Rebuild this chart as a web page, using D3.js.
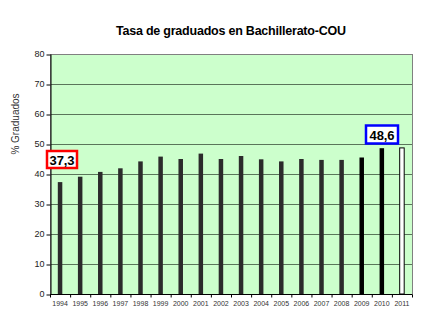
<!DOCTYPE html>
<html>
<head>
<meta charset="utf-8">
<script src="https://cdn.jsdelivr.net/npm/d3@7"></script>
<style>
  body { margin: 0; background: #fff; }
  svg { display: block; font-family: Arial, "Liberation Sans", sans-serif; }
</style>
</head>
<body>
<div id="chart"></div>
<script>
// data
var years = ["1994","1995","1996","1997","1998","1999","2000","2001","2002","2003",
             "2004","2005","2006","2007","2008","2009","2010","2011"];
var values = [37.3, 39.1, 40.7, 41.9, 44.2, 45.8, 45.0, 46.8, 45.0, 46.0,
              44.9, 44.2, 45.0, 44.7, 44.7, 45.5, 48.6, 48.7];
var yTicks = [0, 10, 20, 30, 40, 50, 60, 70, 80];

var W = 428, H = 335;
var margin = {top: 54, right: 16, bottom: 41, left: 50};
var width = 412 - margin.left, height = 294 - margin.top;

var svg = d3.select("#chart").append("svg")
    .attr("width", W).attr("height", H);

// title
svg.append("text")
    .attr("x", 231).attr("y", 35)
    .attr("text-anchor", "middle")
    .style("font-size", "12.5px")
    .style("font-weight", "bold")
    .attr("textLength", 230)
    .text("Tasa de graduados en Bachillerato-COU");

var g = svg.append("g")
    .attr("transform", "translate(" + margin.left + "," + margin.top + ")");

var x = d3.scaleBand().domain(years).range([0, width]).paddingInner(0).paddingOuter(0);
var y = d3.scaleLinear().domain([0, 80]).range([height, 0]);

// plot background
g.append("rect")
    .attr("width", width).attr("height", height)
    .attr("fill", "#ccffcc");

// gridlines
g.selectAll(".grid").data(yTicks.slice(1))
  .enter().append("line")
    .attr("x1", 0).attr("x2", width)
    .attr("y1", function(d) { return y(d) + 0.5; })
    .attr("y2", function(d) { return y(d) + 0.5; })
    .attr("stroke", "#5a755a").attr("stroke-width", 1);

// border
g.append("rect")
    .attr("x", 0.5).attr("y", 0.5)
    .attr("width", width).attr("height", height)
    .attr("fill", "none").attr("stroke", "#808080");

// bars
var bw = 4.5;
g.selectAll(".bar").data(values)
  .enter().append("rect")
    .attr("x", function(d, i) { return x(years[i]) + x.bandwidth() / 2 - bw / 2; })
    .attr("y", function(d) { return y(d); })
    .attr("width", bw)
    .attr("height", function(d) { return height - y(d); })
    .attr("fill", function(d, i) { return i == 17 ? "#fff" : (i >= 15 ? "#000" : "#2b2b2b"); })
    .attr("stroke", function(d, i) { return i == 17 ? "#000" : "none"; })
    .attr("stroke-width", 1);

// y axis
var yAxis = g.append("g")
    .attr("transform", "translate(0.5,0)")
    .call(d3.axisLeft(y).tickValues(yTicks).tickSize(4).tickSizeOuter(0));
yAxis.select(".domain").attr("stroke", "#000");
yAxis.selectAll("line").attr("stroke", "#000").attr("transform", "translate(0,0.5)");
yAxis.selectAll("text").style("font-size", "9px").style("font-family", "Arial, 'Liberation Sans', sans-serif")
    .attr("fill", "#222").attr("x", -6);

// x axis
var xAxis = g.append("g")
    .attr("transform", "translate(0," + (height + 0.5) + ")");
xAxis.append("line").attr("x1", 0).attr("x2", width).attr("stroke", "#000");
xAxis.selectAll(".tk").data(d3.range(years.length + 1))
  .enter().append("line")
    .attr("x1", function(i) { return i * x.step() + 0.5; })
    .attr("x2", function(i) { return i * x.step() + 0.5; })
    .attr("y1", 0).attr("y2", 3)
    .attr("stroke", "#000");
xAxis.selectAll(".lbl").data(years)
  .enter().append("text")
    .attr("x", function(d) { return x(d) + x.bandwidth() / 2; })
    .attr("y", 11)
    .attr("text-anchor", "middle")
    .style("font-size", "7px")
    .attr("fill", "#333")
    .text(function(d) { return d; });

// y label
svg.append("text")
    .attr("transform", "translate(19,124) rotate(-90)")
    .attr("text-anchor", "middle")
    .style("font-size", "10px")
    .attr("fill", "#333")
    .text("% Graduados");

// value callouts
function callout(cx, cy, w, h, color, label) {
  svg.append("rect")
      .attr("x", cx - w / 2).attr("y", cy - h / 2)
      .attr("width", w).attr("height", h)
      .attr("fill", "#fff").attr("stroke", color).attr("stroke-width", 2.5);
  svg.append("text")
      .attr("x", cx).attr("y", cy + 5)
      .attr("text-anchor", "middle")
      .style("font-size", "13px").style("font-weight", "bold")
      .attr("textLength", 25)
      .text(label);
}
callout(62, 159.5, 30, 17, "#ff0000", "37,3");
callout(382, 134.5, 32, 18, "#0000ff", "48,6");
</script>
</body>
</html>
